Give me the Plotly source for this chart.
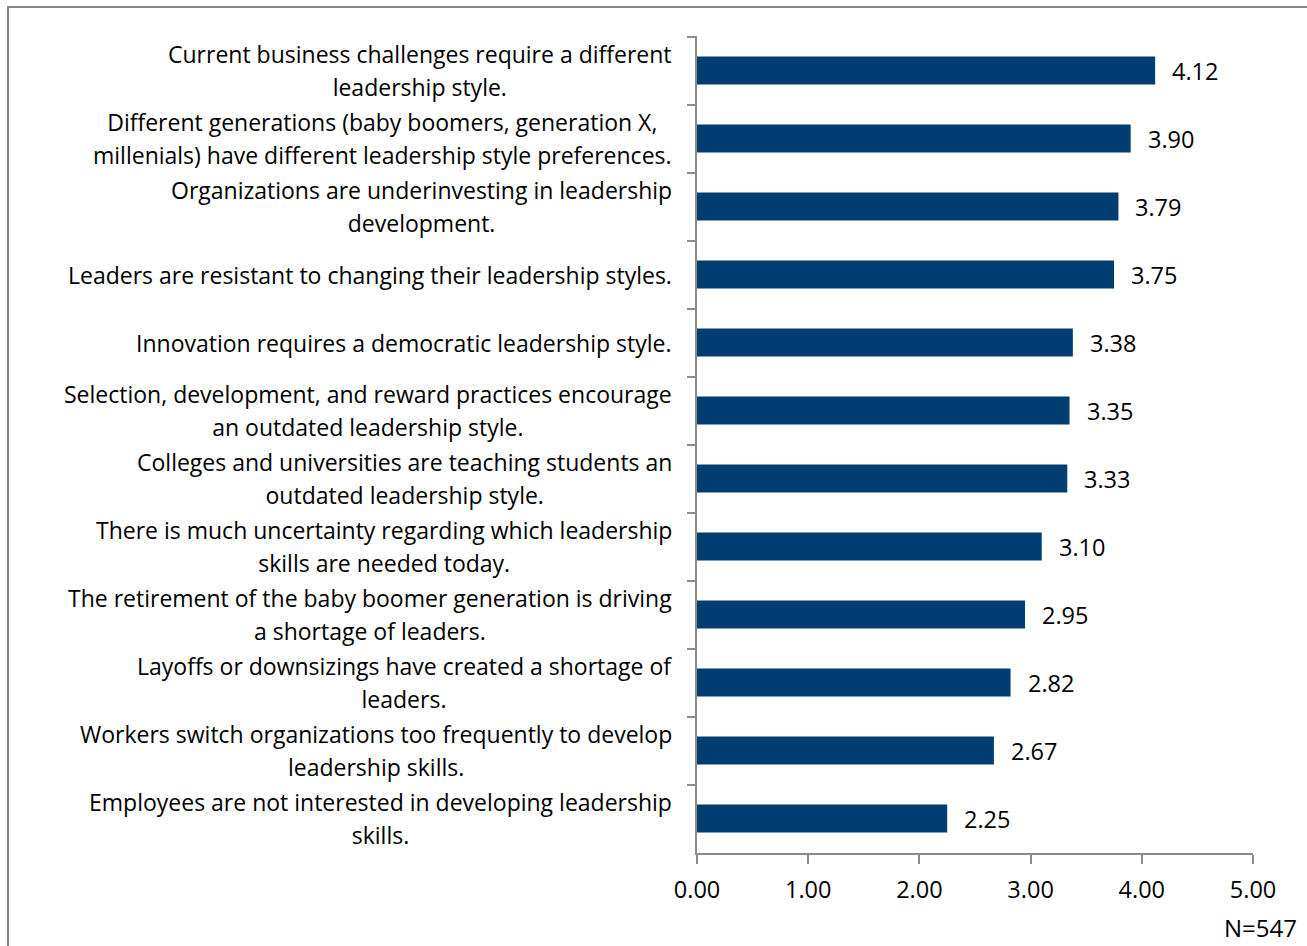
import plotly.graph_objects as go

# Survey statements (top to bottom), each split into its display lines
statement_lines = [
    ["Current business challenges require a different", "leadership style."],
    ["Different generations (baby boomers, generation X,", "millenials) have different leadership style preferences."],
    ["Organizations are underinvesting in leadership", "development."],
    ["Leaders are resistant to changing their leadership styles."],
    ["Innovation requires a democratic leadership style."],
    ["Selection, development, and reward practices encourage", "an outdated leadership style."],
    ["Colleges and universities are teaching students an", "outdated leadership style."],
    ["There is much uncertainty regarding which leadership", "skills are needed today."],
    ["The retirement of the baby boomer generation is driving", "a shortage of leaders."],
    ["Layoffs or downsizings have created a shortage of", "leaders."],
    ["Workers switch organizations too frequently to develop", "leadership skills."],
    ["Employees are not interested in developing leadership", "skills."],
]
mean_scores = [4.12, 3.90, 3.79, 3.75, 3.38, 3.35, 3.33, 3.10, 2.95, 2.82, 2.67, 2.25]
x_ticks = [0, 1, 2, 3, 4, 5]
x_tick_labels = ["0.00", "1.00", "2.00", "3.00", "4.00", "5.00"]
sample_note = "N=547"

categories = [f"s{i}" for i in range(len(statement_lines))]

FONT = "Open Sans"
NUM_FS = 23.5
LABEL_FS = 23
NOTE_FS = 24
LINE_BASE = 25.4          # base size that sets the 33px line pitch of wrapped labels
BAR_COLOR = "#003d71"
AXIS_GRAY = "#8c8c8c"

fig = go.Figure(go.Bar(
    x=mean_scores,
    y=categories,
    orientation="h",
    marker=dict(color=BAR_COLOR, line=dict(width=0)),
    width=0.41,
    hoverinfo="skip",
))

annotations = []
# value labels just right of each bar end
for cat, v in zip(categories, mean_scores):
    annotations.append(dict(
        x=v, y=cat, xref="x", yref="y", text=f"{v:.2f}",
        showarrow=False, xanchor="left", yanchor="middle", xshift=15,
        font=dict(family=FONT, size=NUM_FS, color="#000000"),
    ))

# statement labels: block right-aligned at the axis, lines centred within it
for cat, lines in zip(categories, statement_lines):
    text = "<br>".join(f"<span style='font-size:{LABEL_FS}px'>{ln}</span>" for ln in lines)
    annotations.append(dict(
        x=0, y=cat, xref="paper", yref="y", text=text,
        showarrow=False, xanchor="right", yanchor="middle", align="center",
        xshift=-23,
        font=dict(family=FONT, size=LINE_BASE, color="#000000"),
    ))

annotations.append(dict(
    x=(1299 - 697) / 556, y=0, xref="paper", yref="paper", text=sample_note,
    showarrow=False, xanchor="right", yanchor="middle",
    yshift=-74,
    font=dict(family=FONT, size=NOTE_FS, color="#000000"),
))

fig.update_layout(
    width=1307, height=946,
    margin=dict(l=697, r=54, t=36, b=93, pad=0),
    paper_bgcolor="white", plot_bgcolor="white",
    showlegend=False,
    font=dict(family=FONT, size=NUM_FS, color="#000000"),
    xaxis=dict(
        range=[0, 5], tickvals=x_ticks, ticktext=x_tick_labels,
        showgrid=False, zeroline=False,
        showline=True, linecolor=AXIS_GRAY, linewidth=1.5,
        ticks="outside", ticklen=9, tickcolor=AXIS_GRAY, tickwidth=1.5,
        tickfont=dict(family=FONT, size=NUM_FS, color="#000000"),
        ticklabelstandoff=6,
    ),
    yaxis=dict(
        categoryorder="array", categoryarray=categories,
        autorange="reversed",
        showticklabels=False, showgrid=False, zeroline=False,
        showline=True, linecolor=AXIS_GRAY, linewidth=1.5,
        ticks="outside", tickson="boundaries", ticklen=8,
        tickcolor=AXIS_GRAY, tickwidth=1.5,
    ),
    annotations=annotations,
    shapes=[dict(
        type="rect", xref="paper", yref="paper",
        x0=(8 - 697) / 556, x1=(1330 - 697) / 556,
        y0=(853 - 970) / 817, y1=(853 - 7) / 817,
        line=dict(color="#868686", width=2), fillcolor="rgba(0,0,0,0)",
        layer="below",
    )],
)

fig.write_html("out.html")
